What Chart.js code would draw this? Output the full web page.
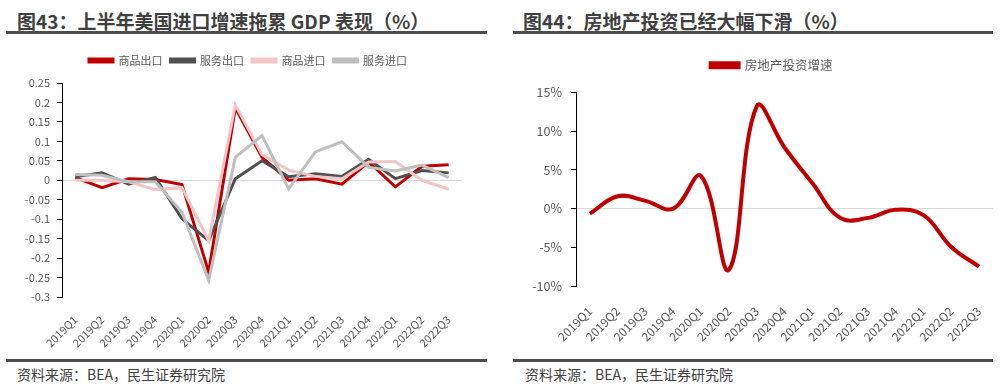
<!DOCTYPE html>
<html>
<head>
<meta charset="utf-8">
<script src="https://cdn.jsdelivr.net/npm/chart.js@4"></script>
<style>
  body { margin: 0; width: 1007px; height: 390px; background: #fff; position: relative; overflow: hidden;
         font-family: "Noto Sans CJK SC", "Noto Sans", sans-serif; }
  .title { position: absolute; top: 10px; font-size: 19px; font-weight: bold; color: #3f3f3f; line-height: 22px; white-space: nowrap; }
  .bar { position: absolute; height: 3px; background: #4d4d4d; }
  .src { position: absolute; top: 365px; font-size: 14px; color: #404040; line-height: 18px; white-space: nowrap; }
  .box { position: absolute; top: 40px; height: 310px; }
</style>
</head>
<body>
<div class="title" style="left:17px">图43：上半年美国进口增速拖累 GDP 表现（%）</div>
<div class="title" style="left:523px">图44：房地产投资已经大幅下滑（%）</div>
<div class="bar" style="left:6px;top:31px;width:481px"></div>
<div class="bar" style="left:513px;top:31px;width:480px"></div>
<div class="box" style="left:0;width:500px"><canvas id="tradeChart"></canvas></div>
<div class="box" style="left:500px;width:507px"><canvas id="propertyChart"></canvas></div>
<div class="bar" style="left:6px;top:359px;width:481px"></div>
<div class="bar" style="left:513px;top:359px;width:480px"></div>
<div class="src" style="left:17px">资料来源：BEA，民生证券研究院</div>
<div class="src" style="left:525px">资料来源：BEA，民生证券研究院</div>

<script>
const quarters = ['2019Q1', '2019Q2', '2019Q3', '2019Q4', '2020Q1', '2020Q2', '2020Q3', '2020Q4',
                  '2021Q1', '2021Q2', '2021Q3', '2021Q4', '2022Q1', '2022Q2', '2022Q3'];

// 图43 各分项对GDP拉动
const goodsExports   = [0.007, -0.019, 0.004, 0.002, -0.011, -0.236, 0.186, 0.059, 0.000, 0.004, -0.010, 0.047, -0.017, 0.036, 0.040];
const serviceExports = [0.009, 0.019, -0.010, 0.007, -0.099, -0.155, 0.004, 0.050, 0.009, 0.017, 0.010, 0.054, 0.004, 0.025, 0.019];
const goodsImports   = [0.000, 0.000, -0.004, -0.024, -0.019, -0.155, 0.194, 0.066, 0.026, 0.010, 0.004, 0.047, 0.048, 0.000, -0.023];
const serviceImports = [0.015, 0.013, -0.004, -0.004, -0.082, -0.257, 0.059, 0.115, -0.022, 0.073, 0.099, 0.033, 0.024, 0.039, 0.007];

// 图44 房地产投资增速（%）
const propertyInvest = [-0.65, 1.6, 1.0, 0.0, 4.2, -7.9, 13.2, 7.9, 3.3, -1.2, -1.2, -0.15, -0.85, -4.95, -7.5];

const tickColor = '#595959';
const font = { family: '"Noto Sans CJK SC", "Noto Sans", sans-serif' };

// extra room under the legend, and nudge it sideways
function legendTweak(extra, dx) {
    return {
        id: 'legendTweak',
        beforeInit(chart) {
            const fit = chart.legend.fit;
            chart.legend.fit = function () {
                fit.call(this);
                this.height += extra;
            };
        },
        afterLayout(chart) {
            chart.legend.left += dx;
            chart.legend.right += dx;
        }
    };
}

function yAxis(width, pad) {
    return {
        border: { display: true, color: '#000', width: 1 },
        grid: {
            color: ctx => ctx.tick && Math.abs(ctx.tick.value) < 1e-9 ? '#d9d9d9' : 'rgba(0,0,0,0)',
            tickColor: '#000',
            tickLength: 5,
            lineWidth: 1
        },
        afterFit: scale => { scale.width = width; },
        ticks: { color: tickColor, padding: pad }
    };
}

function xAxis(height, size, pad) {
    return {
        offset: true,
        border: { display: false },
        grid: { display: false },
        afterFit: scale => { scale.height = height; },
        ticks: { color: tickColor, font: { ...font, size: size }, minRotation: 45, maxRotation: 45, padding: pad, autoSkip: false }
    };
}

// 1. Left chart
const leftY = yAxis(62, 7);
leftY.min = -0.3;
leftY.max = 0.25;
leftY.ticks.stepSize = 0.05;
leftY.ticks.font = { ...font, size: 11 };
leftY.ticks.callback = v => String(Math.round(v * 100) / 100);

new Chart(document.getElementById('tradeChart'), {
    type: 'line',
    data: {
        labels: quarters,
        datasets: [
            { label: '商品出口', data: goodsExports, borderColor: '#c00000', backgroundColor: '#c00000', order: 4 },
            { label: '服务出口', data: serviceExports, borderColor: '#505050', backgroundColor: '#505050', order: 3 },
            { label: '商品进口', data: goodsImports, borderColor: '#f2c6c6', backgroundColor: '#f2c6c6', order: 2 },
            { label: '服务进口', data: serviceImports, borderColor: '#bfbfbf', backgroundColor: '#bfbfbf', order: 1 }
        ]
    },
    plugins: [legendTweak(7, 17)],
    options: {
        responsive: true,
        maintainAspectRatio: false,
        animation: false,
        elements: { point: { radius: 0 }, line: { borderWidth: 3, tension: 0 } },
        layout: { padding: { top: 7, right: 38, left: 0, bottom: 0 } },
        scales: { x: xAxis(53, 11, 8), y: leftY },
        plugins: {
            tooltip: { enabled: false },
            legend: {
                position: 'top',
                labels: {
                    boxWidth: 24, boxHeight: 3, padding: 8, color: tickColor,
                    font: { ...font, size: 11 },
                    sort: (a, b) => a.datasetIndex - b.datasetIndex
                }
            }
        }
    }
});

// 2. Right chart
const rightY = yAxis(76, 9);
rightY.min = -10;
rightY.max = 15;
rightY.ticks.stepSize = 5;
rightY.ticks.font = { ...font, size: 12.5 };
rightY.ticks.callback = v => v + '%';

new Chart(document.getElementById('propertyChart'), {
    type: 'line',
    data: {
        labels: quarters,
        datasets: [
            { label: '房地产投资增速', data: propertyInvest, borderColor: '#c00000', backgroundColor: '#c00000' }
        ]
    },
    plugins: [legendTweak(11, 25)],
    options: {
        responsive: true,
        maintainAspectRatio: false,
        animation: false,
        elements: { point: { radius: 0 }, line: { borderWidth: 4, tension: 0.4 } },
        layout: { padding: { top: 9, right: 14, left: 0, bottom: 0 } },
        scales: { x: xAxis(64, 12, 10), y: rightY },
        plugins: {
            tooltip: { enabled: false },
            legend: {
                position: 'top',
                labels: { boxWidth: 28, boxHeight: 4, padding: 10, color: tickColor, font: { ...font, size: 12.5 } }
            }
        }
    }
});
</script>
</body>
</html>
